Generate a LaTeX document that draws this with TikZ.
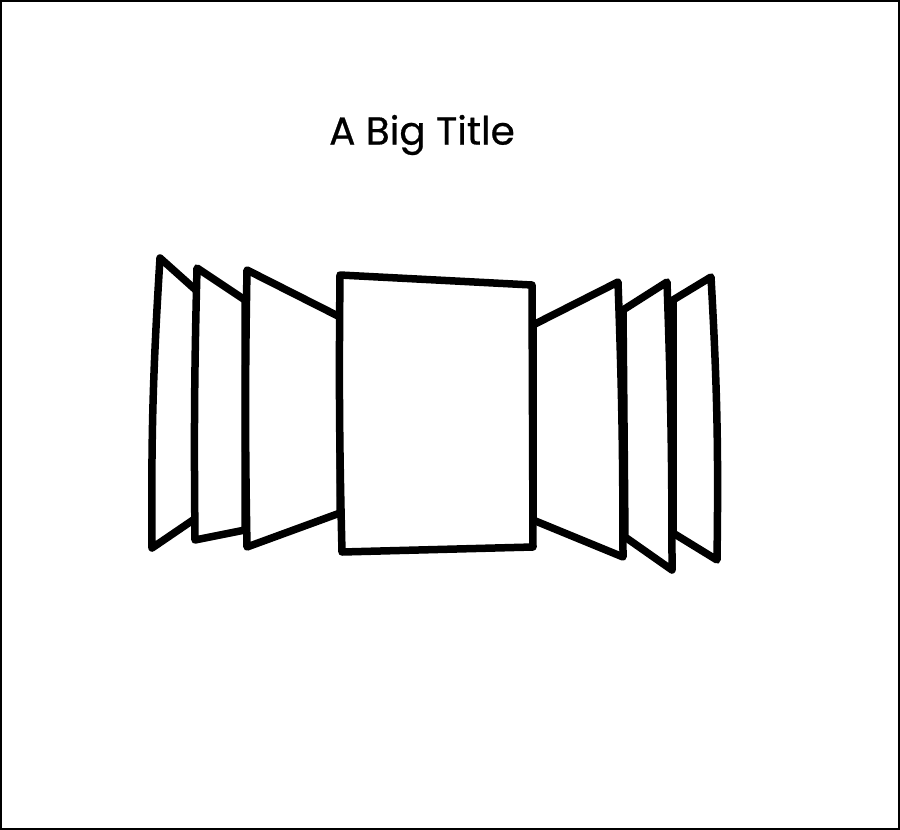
\documentclass[tikz,border=0pt]{standalone}
\usepackage{fontspec}
\setmainfont{Poppins}
\newfontfamily\titlefont{Poppins}[FakeBold=0.6]
\tikzset{
  panel/.style={draw, line width=7.5pt, line join=round, line cap=round, fill=white},
  frame/.style={draw, line width=2pt},
}
\begin{document}
\begin{tikzpicture}[x=1pt, y=-1pt]
\useasboundingbox (0,0) rectangle (900,830);
\draw[frame] (1,1) rectangle (899,829);

% Titolo
\node[font=\titlefont\fontsize{39}{46}\selectfont] (title) at (422,135) {A Big Title};

% Pannelli di sinistra
\draw[panel] (160,258) -- (198,292) -- (196,518) -- (152,548) to[bend left=2] cycle;
\draw[panel] (197,268) -- (245,300) -- (245,530) -- (195,540) to[bend left=1] cycle;
\draw[panel] (247,270) -- (340,317) -- (340,513) -- (247,547) to[bend left=1] cycle;

% Pannelli di destra
\draw[panel] (673,300) -- (711,277) to[bend left=2] (717,560) -- (673,533) -- cycle;
\draw[panel] (623,310) -- (667,282) to[bend left=1] (672,570) -- (625,537) -- cycle;
\draw[panel] (533,325) -- (618,282) to[bend left=1] (623,557) -- (533,520) -- cycle;

% Pannello centrale
\draw[panel] (340,275) -- (532,285) -- (533,547) -- (342,552) to[bend left=1] cycle;

\end{tikzpicture}
\end{document}
